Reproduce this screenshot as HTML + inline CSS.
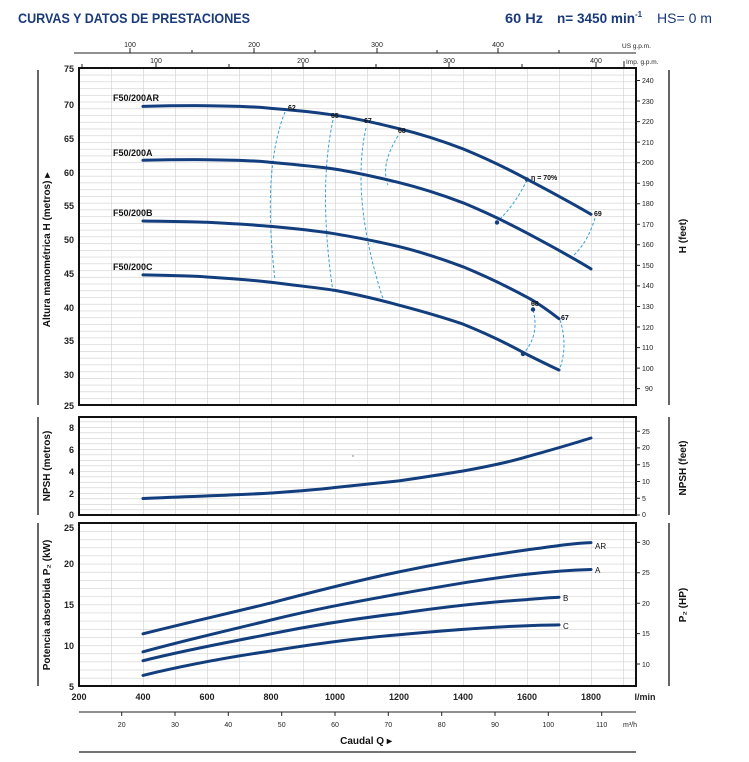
<!DOCTYPE html><html><head><style>body{margin:0;background:#fff}svg{display:block;font-family:"Liberation Sans",sans-serif}</style></head><body>
<svg width="749" height="762" xmlns="http://www.w3.org/2000/svg">
<defs>
<pattern id="g1" x="79" y="68" width="32" height="6.74" patternUnits="userSpaceOnUse"><path d="M0 0V6.74M0 0H32" stroke="#cfcfcf" stroke-width="1.2" fill="none"/></pattern>
<pattern id="g2" x="79" y="515" width="32" height="5.5" patternUnits="userSpaceOnUse"><path d="M0 0V5.5M0 0H32" stroke="#cfcfcf" stroke-width="1.2" fill="none"/></pattern>
<pattern id="g3" x="79" y="686" width="32" height="8.15" patternUnits="userSpaceOnUse"><path d="M0 0V8.15M0 0H32" stroke="#cfcfcf" stroke-width="1.2" fill="none"/></pattern>
</defs>
<text x="18" y="23" font-size="14" font-weight="bold" fill="#1a3a7a" textLength="232" lengthAdjust="spacingAndGlyphs">CURVAS Y DATOS DE PRESTACIONES</text>
<text x="505" y="23" font-size="14" font-weight="bold" fill="#1a3a7a" textLength="38" lengthAdjust="spacingAndGlyphs">60 Hz</text>
<text x="557" y="23" font-size="14" font-weight="bold" fill="#1a3a7a"><tspan textLength="78" lengthAdjust="spacingAndGlyphs">n= 3450 min</tspan><tspan font-size="8" dy="-6">-1</tspan></text>
<text x="657" y="23" font-size="14" fill="#1a3a7a" textLength="55" lengthAdjust="spacingAndGlyphs">HS= 0 m</text>
<!-- top axes -->
<g font-size="7" fill="#222" text-anchor="middle">
<line x1="74" y1="53" x2="636" y2="53" stroke="#222"/>
<g stroke="#222"><line x1="130" y1="53" x2="130" y2="48"/><line x1="192" y1="53" x2="192" y2="50"/><line x1="254" y1="53" x2="254" y2="48"/><line x1="315" y1="53" x2="315" y2="50"/><line x1="377" y1="53" x2="377" y2="48"/><line x1="437" y1="53" x2="437" y2="50"/><line x1="498" y1="53" x2="498" y2="48"/><line x1="559" y1="53" x2="559" y2="50"/></g>
<text x="130" y="47">100</text><text x="254" y="47">200</text><text x="377" y="47">300</text><text x="498" y="47">400</text>
<text x="622" y="48" font-size="6.5" text-anchor="start">US g.p.m.</text>
<g stroke="#222"><line x1="82" y1="68" x2="82" y2="64"/><line x1="156" y1="68" x2="156" y2="63"/><line x1="229" y1="68" x2="229" y2="64"/><line x1="303" y1="68" x2="303" y2="63"/><line x1="376" y1="68" x2="376" y2="64"/><line x1="449" y1="68" x2="449" y2="63"/><line x1="522" y1="68" x2="522" y2="64"/><line x1="596" y1="68" x2="596" y2="63"/><line x1="624" y1="68" x2="624" y2="61"/></g>
<text x="156" y="63">100</text><text x="303" y="63">200</text><text x="449" y="63">300</text><text x="596" y="63">400</text>
<text x="626" y="64" font-size="6.5" text-anchor="start">Imp. g.p.m.</text>
</g>
<!-- side bars -->
<g stroke="#333" stroke-width="1.5"><line x1="38" y1="70" x2="38" y2="405"/><line x1="669" y1="70" x2="669" y2="405"/><line x1="38" y1="417" x2="38" y2="515"/><line x1="669" y1="417" x2="669" y2="515"/><line x1="38" y1="523" x2="38" y2="686"/><line x1="669" y1="523" x2="669" y2="686"/></g>
<!-- panels -->
<rect x="79" y="68" width="557" height="337" fill="url(#g1)" stroke="#111" stroke-width="2"/>
<rect x="79" y="417" width="557" height="98" fill="url(#g2)" stroke="#111" stroke-width="2"/>
<rect x="79" y="523" width="557" height="163" fill="url(#g3)" stroke="#111" stroke-width="2"/>
<!-- left labels -->
<g font-size="9" font-weight="bold" fill="#222" text-anchor="end">
<text x="74" y="72">75</text><text x="74" y="108">70</text><text x="74" y="142">65</text><text x="74" y="176">60</text><text x="74" y="209">55</text><text x="74" y="243">50</text><text x="74" y="277">45</text><text x="74" y="311">40</text><text x="74" y="344">35</text><text x="74" y="378">30</text><text x="74" y="409">25</text>
<text x="74" y="431">8</text><text x="74" y="453">6</text><text x="74" y="475">4</text><text x="74" y="497">2</text><text x="74" y="518">0</text>
<text x="74" y="531">25</text><text x="74" y="567">20</text><text x="74" y="608">15</text><text x="74" y="649">10</text><text x="74" y="690">5</text>
</g>
<g font-size="10" font-weight="bold" fill="#111" text-anchor="middle">
<text transform="translate(50,250) rotate(-90)">Altura manométrica H (metros) ▸</text>
<text transform="translate(50,466) rotate(-90)">NPSH (metros)</text>
<text transform="translate(50,605) rotate(-90)">Potencia absorbida P₂ (kW)</text>
<text transform="translate(686,236) rotate(-90)">H (feet)</text>
<text transform="translate(686,468) rotate(-90)">NPSH (feet)</text>
<text transform="translate(686,605) rotate(-90)">P₂ (HP)</text>
</g>
<g font-size="7" fill="#222">
<path d="M636 80.5h4M636 101h4M636 121.6h4M636 142.1h4M636 162.7h4M636 183.2h4M636 203.8h4M636 224.3h4M636 244.8h4M636 265.4h4M636 285.9h4M636 306.5h4M636 327h4M636 347.6h4M636 368.1h4M636 388.6h4" stroke="#222"/>
<text x="642" y="83">240</text><text x="642" y="104">230</text><text x="642" y="124">220</text><text x="642" y="145">210</text><text x="642" y="165">200</text><text x="642" y="186">190</text><text x="642" y="206">180</text><text x="642" y="227">170</text><text x="642" y="247">160</text><text x="642" y="268">150</text><text x="642" y="288">140</text><text x="642" y="309">130</text><text x="642" y="330">120</text><text x="642" y="350">110</text><text x="642" y="371">100</text><text x="645" y="391">90</text>
<path d="M636 515h4M636 498.2h4M636 481.5h4M636 464.7h4M636 447.9h4M636 431.2h4" stroke="#222"/>
<text x="642" y="517">0</text><text x="642" y="501">5</text><text x="642" y="484">10</text><text x="642" y="467">15</text><text x="642" y="450">20</text><text x="642" y="434">25</text>
<path d="M636 664h4M636 633.6h4M636 603.2h4M636 572.8h4M636 542.4h4" stroke="#222"/>
<text x="642" y="667">10</text><text x="642" y="636">15</text><text x="642" y="606">20</text><text x="642" y="575">25</text><text x="642" y="545">30</text>
</g>
<!-- bottom axis -->
<g font-size="9" font-weight="bold" fill="#222" text-anchor="middle">
<text x="79" y="700">200</text><text x="143" y="700">400</text><text x="207" y="700">600</text><text x="271" y="700">800</text><text x="335" y="700">1000</text><text x="399" y="700">1200</text><text x="463" y="700">1400</text><text x="527" y="700">1600</text><text x="591" y="700">1800</text><text x="645" y="700">l/min</text>
</g>
<line x1="79" y1="712" x2="636" y2="712" stroke="#222"/>
<g font-size="7" fill="#222" text-anchor="middle">
<path d="M121.7 712v4M175 712v4M228.3 712v4M281.7 712v4M335 712v4M388.3 712v4M441.7 712v4M495 712v4M548.3 712v4M601.7 712v4" stroke="#222"/>
<text x="121.7" y="727">20</text><text x="175" y="727">30</text><text x="228.3" y="727">40</text><text x="281.7" y="727">50</text><text x="335" y="727">60</text><text x="388.3" y="727">70</text><text x="441.7" y="727">80</text><text x="495" y="727">90</text><text x="548.3" y="727">100</text><text x="601.7" y="727">110</text><text x="630" y="727">m³/h</text>
</g>
<text x="366" y="744" font-size="10" font-weight="bold" fill="#111" text-anchor="middle">Caudal Q ▸</text>
<line x1="79" y1="752" x2="636" y2="752" stroke="#222" stroke-width="1.3"/>
<!-- efficiency dashed -->
<g fill="none" stroke="#3aa0d8" stroke-width="1" stroke-dasharray="3,2">
<path d="M285 112 Q262 170 275 280"/>
<path d="M333 120 Q318 190 333 292"/>
<path d="M366 128 Q350 200 385 305"/>
<path d="M398 136 Q380 165 388 185"/>
<path d="M527 180 Q515 205 497 222"/>
<path d="M595 218 Q588 242 573 256"/>
<path d="M533 310 Q540 335 523 354"/>
<path d="M560 320 Q568 345 560 368"/>
</g>
<g fill="none" stroke="#123e7e" stroke-width="3" stroke-linejoin="round" stroke-linecap="round">
<path d="M143 106.4 C175 105.5 207 105.7 207 105.7 C240 106 260 107 271 108.4 C300 110.5 320 113 335 115.2 C360 119 380 124 399 128.7 C425 135 445 142 463 148.9 C490 160 510 170 527 179.2 C555 194 575 205 591 214.3"/>
<path d="M143 160.3 C175 159.5 207 159.7 207 159.7 C240 160 260 161 271 162.4 C300 165 320 167 335 169.1 C360 173 380 178 399 182.6 C425 189 445 196 463 202.8 C490 214 510 224 527 233.1 C555 248 575 259 591 268.9"/>
<path d="M143 221 C175 221.5 195 221.5 207 222.3 C240 224 255 225 271 226.4 C300 229 320 231.5 335 233.8 C360 238 380 242 399 246.6 C425 253 445 260 463 266.8 C490 278 510 288 527 297.2 C540 304 550 312 559 318.7"/>
<path d="M143 274.9 C175 275.5 195 276 207 277 C240 279 255 280.5 271 282.3 C300 286 320 288 335 290.4 C360 295 380 300 399 305.2 C425 312 445 318 463 324.1 C490 335 510 345 527 354.5 C540 361 550 366 559 370"/>
<path d="M143 498.5 C200 496 240 495 271 493 C300 491 315 490 335 487.5 C360 485 380 483 399 480.9 C425 477 445 474 463 471 C490 466 510 462 527 456.7 C555 449 575 443 591 438"/>
<path d="M143 633.8 C190 622 230 613 271 602.9 C320 590 360 580 399 571.9 C450 561 490 555 527 549.9 C555 546 575 543 591 542.6"/>
<path d="M143 651.8 C190 639 230 630 271 620 C320 608 360 601 399 593.9 C450 585 490 578 527 574.3 C555 571 575 570 591 569.5"/>
<path d="M143 660.7 C190 649 230 642 271 633.8 C320 624 360 618 399 613.5 C450 606 490 602 527 599.6 C540 598.5 550 597.5 559 597.2"/>
<path d="M143 675.4 C190 664 230 657 271 651 C320 643 360 638 399 634.7 C450 630 490 627 527 625.7 C540 625 550 625 559 624.9"/>
</g>
<g fill="#123e7e"><circle cx="527" cy="179.5" r="2.2"/><circle cx="497" cy="222.5" r="2.2"/><circle cx="533" cy="309.5" r="2.2"/><circle cx="523" cy="354" r="2.2"/></g>
<g font-size="9" font-weight="bold" fill="#111">
<text x="113" y="101">F50/200AR</text><text x="113" y="156">F50/200A</text><text x="113" y="216">F50/200B</text><text x="113" y="270">F50/200C</text>
</g>
<g font-size="7" font-weight="bold" fill="#111">
<text x="288" y="110">62</text><text x="331" y="118">65</text><text x="364" y="123">67</text><text x="398" y="133">68</text><text x="531" y="180">η = 70%</text><text x="594" y="216">69</text><text x="531" y="306">68</text><text x="561" y="320">67</text>
</g>
<g font-size="8" fill="#111"><text x="595" y="549">AR</text><text x="595" y="573">A</text><text x="563" y="601">B</text><text x="563" y="629">C</text></g>
<circle cx="353" cy="456" r="0.6" fill="#333"/>
</svg>
</body></html>
